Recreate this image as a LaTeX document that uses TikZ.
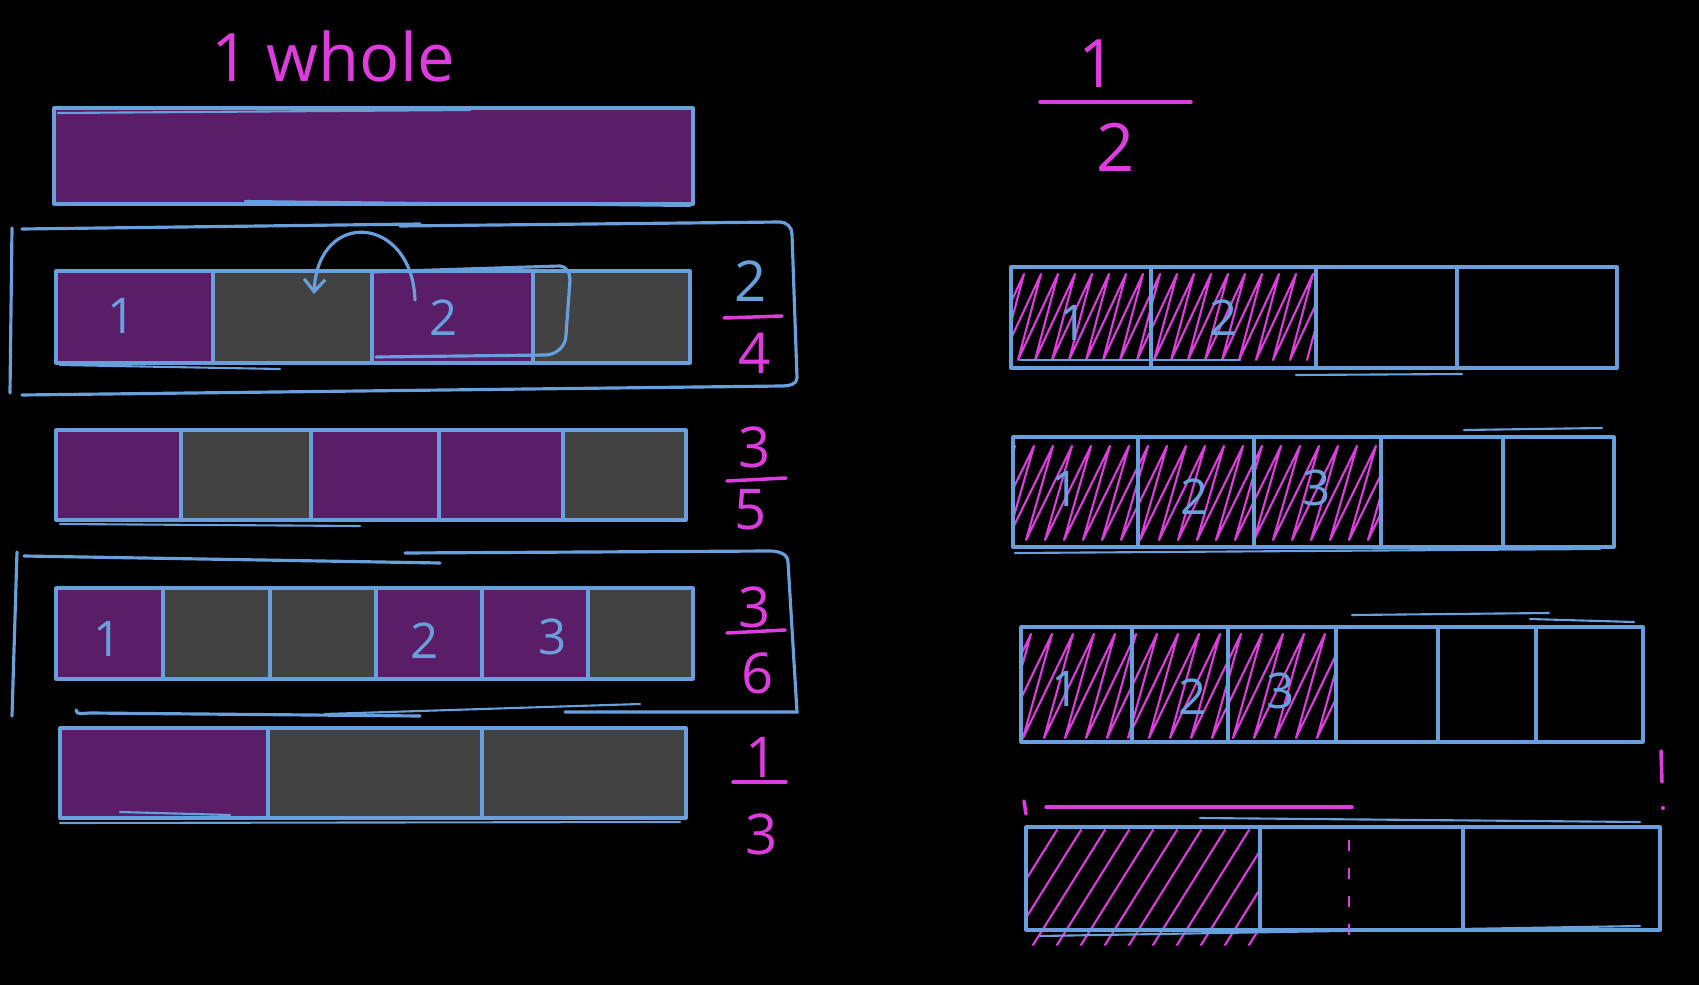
\documentclass[tikz,border=0pt]{standalone}
\usepackage{fontspec}
\setmainfont{Open Sans}
\usetikzlibrary{arrows.meta}
\definecolor{kpurple}{RGB}{90,30,104}
\definecolor{kgray}{RGB}{66,66,66}
\definecolor{kblue}{RGB}{104,160,222}
\definecolor{kmag}{RGB}{222,60,222}
\begin{document}
\begin{tikzpicture}[x=0.01cm,y=-0.01cm,
  outline/.style={draw=kblue,line width=0.9pt,line join=round,line cap=round},
  blueline/.style={draw=kblue,line width=0.9pt,line cap=round},
  thinblue/.style={draw=kblue,line width=0.6pt,line cap=round},
  hatch/.style={draw=kmag,line width=0.6pt,line cap=round,line join=round},
  magline/.style={draw=kmag,line width=1pt,line cap=round},
  celllabel/.style={text=kblue,font=\fontsize{14}{14}\selectfont,inner sep=0pt},
  fraclabel/.style={text=kmag,font=\fontsize{16}{16}\selectfont,inner sep=0pt},
  bigfrac/.style={text=kmag,font=\fontsize{19}{19}\selectfont,inner sep=0pt},
  ]
\fill[black] (0,0) rectangle (1699,985);
\useasboundingbox (0,0) rectangle (1699,985);

% ---------- title ----------
\node[text=kmag,font=\fontsize{19}{19}\selectfont,anchor=base,inner sep=0pt] (whole) at (333,82) {1 whole};

% ---------- whole bar ----------
\fill[kpurple] (54,108) rectangle (693,204);
\draw[outline] (54,108) rectangle (693,204);
\draw[thinblue] (58,113) -- (470,110);
\draw[thinblue] (245,201) -- (690,206);

% ---------- bracket 1 ----------
\draw[blueline] (12,228) -- (10,393);
\draw[blueline] (22,229) -- (420,224) (400,226) -- (780,222) to[out=0,in=90] (792,234) -- (797,378) to[out=-90,in=0] (782,386) -- (22,395);

% ---------- 2/4 row ----------
\foreach \a/\b/\c in {56/213/kpurple,213/372/kgray,372/533/kpurple,533/690/kgray}
  \fill[\c] (\a,271) rectangle (\b,363);
\draw[outline] (56,271) rectangle (690,363);
\foreach \d in {213,372,533} \draw[blueline] (\d,273) -- (\d,361);
\draw[thinblue] (60,365) -- (280,369);
\node[celllabel] (l1a) at (122,316) {1};
\node[celllabel] (l1b) at (444,318) {2};
% loop around cell 3 and arrow
\draw[blueline] (372,272) -- (560,266) to[out=0,in=90] (570,280) -- (566,335) to[out=-90,in=0] (545,355) -- (376,357);
\coordinate (arrS) at (415,300);
\coordinate (arrE) at (314,294);
\draw[blueline,-{Straight Barb[length=3.5pt,width=6pt]}] (arrS) .. controls (412,215) and (318,208) .. (arrE);
% fraction 2/4
\node[text=kblue,font=\fontsize{16}{16}\selectfont,inner sep=0pt] (f1n) at (751,281) {2};
\coordinate (f1a) at (724,318); \coordinate (f1b) at (782,316);
\draw[magline] (f1a) -- (f1b);
\node[fraclabel] (f1d) at (755,353) {4};

% ---------- 3/5 row ----------
\foreach \a/\b/\c in {56/181/kpurple,181/311/kgray,311/439/kpurple,439/563/kpurple,563/686/kgray}
  \fill[\c] (\a,430) rectangle (\b,520);
\draw[outline] (56,430) rectangle (686,520);
\foreach \d in {181,311,439,563} \draw[blueline] (\d,432) -- (\d,518);
\draw[thinblue] (60,524) -- (360,526);
\node[fraclabel] (f2n) at (755,447) {3};
\coordinate (f2a) at (727,481); \coordinate (f2b) at (786,478);
\draw[magline] (f2a) -- (f2b);
\node[fraclabel] (f2d) at (751,510) {5};

% ---------- bracket 2 ----------
\draw[blueline] (17,552) -- (12,716);
\draw[blueline] (24,556) -- (440,563) (405,553) -- (770,551) to[out=0,in=90] (788,562) -- (797,712) -- (565,712);
\draw[blueline] (76,710) to[out=-90,in=180] (90,713) -- (420,716);
\draw[thinblue] (325,714) -- (640,704);

% ---------- 3/6 row ----------
\foreach \a/\b/\c in {56/163/kpurple,163/270/kgray,270/376/kgray,376/482/kpurple,482/588/kpurple,588/693/kgray}
  \fill[\c] (\a,588) rectangle (\b,679);
\draw[outline] (56,588) rectangle (693,679);
\foreach \d in {163,270,376,482,588} \draw[blueline] (\d,590) -- (\d,677);
\node[celllabel] (l3a) at (108,639) {1};
\node[celllabel] (l3b) at (425,641) {2};
\node[celllabel] (l3c) at (553,637) {3};
\node[fraclabel] (f3n) at (755,607) {3};
\coordinate (f3a) at (727,633); \coordinate (f3b) at (785,630);
\draw[magline] (f3a) -- (f3b);
\node[fraclabel] (f3d) at (758,673) {6};

% ---------- 1/3 row ----------
\foreach \a/\b/\c in {60/268/kpurple,268/482/kgray,482/686/kgray}
  \fill[\c] (\a,728) rectangle (\b,818);
\draw[outline] (60,728) rectangle (686,818);
\foreach \d in {268,482} \draw[blueline] (\d,730) -- (\d,816);
\draw[thinblue] (120,812) -- (230,815);
\draw[thinblue] (60,823) -- (680,822);
\node[fraclabel] (f4n) at (762,757) {1};
\coordinate (f4a) at (733,782); \coordinate (f4b) at (786,782);
\draw[magline] (f4a) -- (f4b);
\node[fraclabel] (f4d) at (762,834) {3};

% ---------- 1/2 title ----------
\node[bigfrac] (hn) at (1098,64) {1};
\coordinate (ha) at (1040,102); \coordinate (hb) at (1191,102);
\draw[magline] (ha) -- (hb);
\node[bigfrac] (hd) at (1116,147) {2};

% ---------- R1: 2/4 ----------
\begin{scope}
  \clip (1011,260) rectangle (1316,372);
  \draw[hatch] (950,360) \foreach \i in {0,...,20} { -- ({950+\i*17+40},274) -- ({950+(\i+1)*17},360) };
\end{scope}
\draw[outline] (1011,267) rectangle (1617,368);
\foreach \d in {1151,1316,1457} \draw[blueline] (\d,268) -- (\d,367);
\draw[thinblue] (1296,375) -- (1462,374);
\draw[thinblue] (1020,360) -- (1240,360);
\node[celllabel] (r1a) at (1074,323) {1};
\node[celllabel] (r1b) at (1224,318) {2};

% ---------- R2: 3/5 ----------
\begin{scope}
  \clip (1013,432) rectangle (1381,552);
  \draw[hatch] (950,540) \foreach \i in {0,...,22} { -- ({950+\i*19+46},446) -- ({950+(\i+1)*19},540) };
\end{scope}
\draw[outline] (1013,437) rectangle (1614,547);
\foreach \d in {1138,1254,1381,1503} \draw[blueline] (\d,438) -- (\d,546);
\draw[thinblue] (1464,430) -- (1602,428);
\draw[thinblue] (1015,553) -- (1600,549);
\node[celllabel] (r2a) at (1066,489) {1};
\node[celllabel] (r2b) at (1195,497) {2};
\node[celllabel] (r2c) at (1317,488) {3};

% ---------- R3: 3/6 ----------
\begin{scope}
  \clip (1021,620) rectangle (1336,748);
  \draw[hatch] (960,738) \foreach \i in {0,...,18} { -- ({960+\i*21+50},634) -- ({960+(\i+1)*21},738) };
\end{scope}
\draw[outline] (1021,627) rectangle (1643,742);
\foreach \d in {1132,1228,1336,1438,1536} \draw[blueline] (\d,628) -- (\d,741);
\draw[thinblue] (1352,615) -- (1549,613);
\draw[thinblue] (1530,619) -- (1634,622);
\node[celllabel] (r3a) at (1066,689) {1};
\node[celllabel] (r3b) at (1193,697) {2};
\node[celllabel] (r3c) at (1281,691) {3};

% ---------- R4: 1/3 ----------
\draw[magline] (1046,807) -- (1352,807);
\draw[magline] (1024,801) -- (1026,814);
\draw[magline] (1661,751) -- (1662,782);
\fill[kmag] (1663,808) circle (2);
\begin{scope}
  \clip (1024,822) rectangle (1262,946);
  \foreach \i in {0,...,11} \draw[hatch] ({985+\i*24},945) -- ({985+\i*24+72},830);
\end{scope}
\draw[outline] (1026,827) rectangle (1660,930);
\foreach \d in {1260,1463} \draw[blueline] (\d,829) -- (\d,929);
\draw[kmag,line width=0.7pt,dash pattern=on 3pt off 5pt] (1349,840) -- (1349,945);
\draw[thinblue] (1040,936) -- (1640,926);
\draw[thinblue] (1200,818) -- (1640,822);
\end{tikzpicture}
\end{document}
